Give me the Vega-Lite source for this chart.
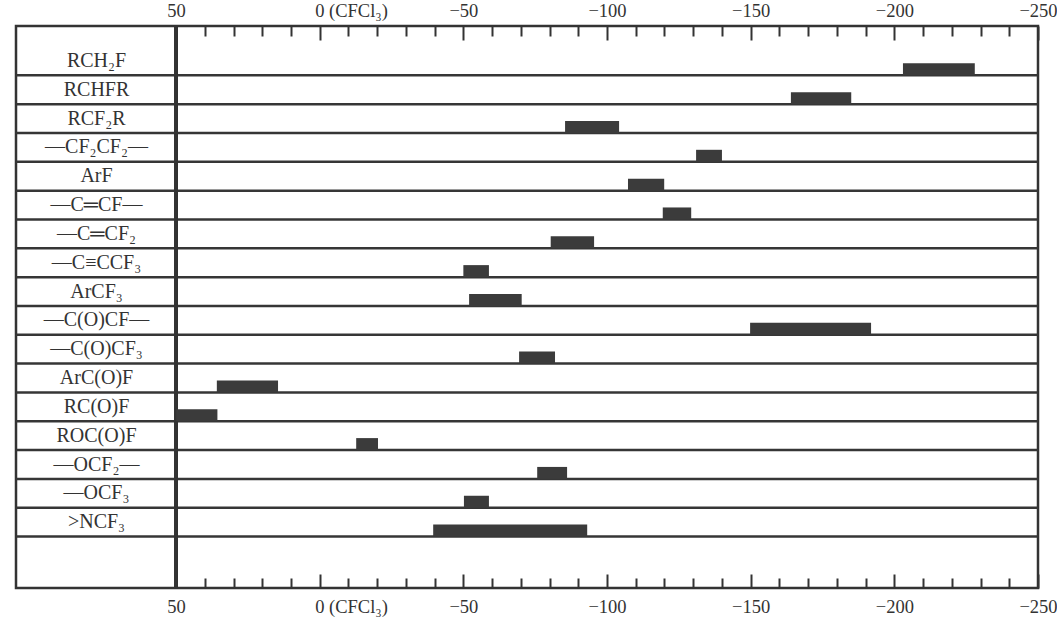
{
  "$schema": "https://vega.github.io/schema/vega-lite/v6.json",
  "width": 1022,
  "height": 562,
  "autosize": {"type": "none"},
  "padding": {"left": 16, "top": 26, "right": 19, "bottom": 34},
  "background": "white",
  "config": {"view": {"stroke": "#333333", "strokeWidth": 2.5}, "font": "Liberation Serif"},
  "data": {
    "values": [
      {"label": "RCH₂F", "lo": -203, "hi": -228},
      {"label": "RCHFR", "lo": -164, "hi": -185},
      {"label": "RCF₂R", "lo": -85.4, "hi": -104.2},
      {"label": "—CF₂CF₂—", "lo": -131, "hi": -140},
      {"label": "ArF", "lo": -107.3, "hi": -119.9},
      {"label": "—C═CF—", "lo": -119.4, "hi": -129.3},
      {"label": "—C═CF₂", "lo": -80.4, "hi": -95.5},
      {"label": "—C≡CCF₃", "lo": -50, "hi": -58.9},
      {"label": "ArCF₃", "lo": -52, "hi": -70.3},
      {"label": "—C(O)CF—", "lo": -149.8, "hi": -191.9},
      {"label": "—C(O)CF₃", "lo": -69.4, "hi": -81.9},
      {"label": "ArC(O)F", "lo": 35.8, "hi": 14.5},
      {"label": "RC(O)F", "lo": 50, "hi": 35.6},
      {"label": "ROC(O)F", "lo": -12.7, "hi": -20.3},
      {"label": "—OCF₂—", "lo": -75.7, "hi": -86.1},
      {"label": "—OCF₃", "lo": -50.2, "hi": -58.9},
      {"label": ">NCF₃", "lo": -39.5, "hi": -93.1}
    ]
  },
  "layer": [
    {
      "mark": {"type": "rule", "color": "#363636", "strokeWidth": 2.5},
      "encoding": {
        "y": {
          "field": "label", "type": "nominal", "sort": null, "bandPosition": 1,
          "scale": {"type": "band", "paddingInner": 0, "paddingOuter": 0, "range": [20.5, 510.6]},
          "axis": {
            "orient": "left", "offset": -80, "title": null, "domain": false, "ticks": false, "grid": false,
            "labelAlign": "center", "labelBaseline": "middle", "labelPadding": 0,
            "labelFont": "Liberation Serif", "labelFontSize": 20, "labelColor": "#333333", "labelLimit": 0
          }
        }
      }
    },
    {
      "mark": {"type": "rule", "color": "#333333", "strokeWidth": 2.5},
      "encoding": {
        "x": {
          "datum": 50, "type": "quantitative",
          "scale": {"domain": [-250, 105.7], "reverse": true, "nice": false, "zero": false},
          "axis": {
            "orient": "bottom",
            "values": [50, 40, 30, 20, 10, 0, -10, -20, -30, -40, -50, -60, -70, -80, -90, -100, -110, -120, -130, -140, -150, -160, -170, -180, -190, -200, -210, -220, -230, -240, -250],
            "title": null, "domain": false, "grid": false, "ticks": true,
            "tickColor": "#333333", "tickWidth": 2,
            "tickSize": {"condition": {"test": "datum.value % 50 === 0", "value": -14}, "value": -10},
            "labelExpr": "datum.value % 50 !== 0 ? '' : (datum.value === 0 ? '0 (CFCl₃)' : (datum.value < 0 ? '−' + abs(datum.value) : '' + datum.value))",
            "labelAlign": {"condition": {"test": "datum.value === 0", "value": "left"}, "value": "center"},
            "labelOffset": {"condition": {"test": "datum.value === 0", "value": -5}, "value": 0},
            "labelBaseline": "alphabetic", "labelPadding": 38,
            "labelFont": "Liberation Serif", "labelFontSize": 18.5, "labelColor": "#333333",
            "labelOverlap": false, "labelFlush": false, "labelBound": false
          }
        }
      }
    },
    {
      "mark": {"type": "bar", "color": "#3b3b3b", "height": 12, "yOffset": 8.4},
      "encoding": {
        "x": {
          "field": "lo", "type": "quantitative",
          "scale": {"domain": [-250, 105.7], "reverse": true, "nice": false, "zero": false},
          "axis": {
            "orient": "top",
            "values": [50, 40, 30, 20, 10, 0, -10, -20, -30, -40, -50, -60, -70, -80, -90, -100, -110, -120, -130, -140, -150, -160, -170, -180, -190, -200, -210, -220, -230, -240, -250],
            "title": null, "domain": false, "grid": false, "ticks": true,
            "tickColor": "#333333", "tickWidth": 2,
            "tickSize": {"condition": {"test": "datum.value % 50 === 0", "value": -14}, "value": -10},
            "labelExpr": "datum.value % 50 !== 0 ? '' : (datum.value === 0 ? '0 (CFCl₃)' : (datum.value < 0 ? '−' + abs(datum.value) : '' + datum.value))",
            "labelAlign": {"condition": {"test": "datum.value === 0", "value": "left"}, "value": "center"},
            "labelOffset": {"condition": {"test": "datum.value === 0", "value": -5}, "value": 0},
            "labelBaseline": "alphabetic", "labelPadding": 23.5,
            "labelFont": "Liberation Serif", "labelFontSize": 18.5, "labelColor": "#333333",
            "labelOverlap": false, "labelFlush": false, "labelBound": false
          }
        },
        "x2": {"field": "hi"},
        "y": {
          "field": "label", "type": "nominal", "sort": null,
          "scale": {"type": "band", "paddingInner": 0, "paddingOuter": 0, "range": [20.5, 510.6]},
          "axis": {
            "orient": "left", "offset": -80, "title": null, "domain": false, "ticks": false, "grid": false,
            "labelAlign": "center", "labelBaseline": "middle", "labelPadding": 0,
            "labelFont": "Liberation Serif", "labelFontSize": 20, "labelColor": "#333333", "labelLimit": 0
          }
        }
      }
    }
  ],
  "resolve": {"axis": {"x": "independent"}}
}
